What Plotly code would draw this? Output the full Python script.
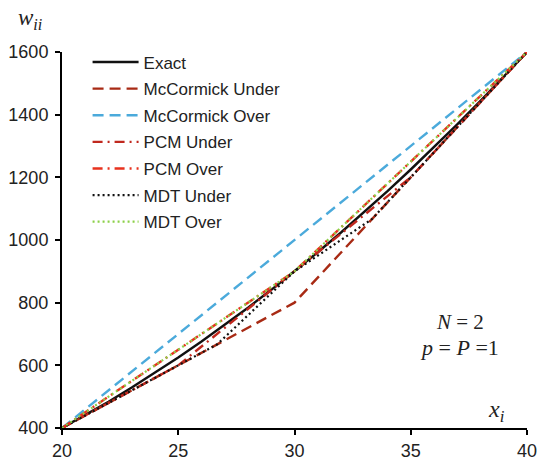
import plotly.graph_objects as go

# ---- data ----
exact_x = [20, 21, 22, 23, 24, 25, 26, 27, 28, 29, 30, 31, 32, 33, 34, 35, 36, 37, 38, 39, 40]
exact_y = [400, 441, 484, 529, 576, 625, 676, 729, 784, 841, 900, 961, 1024, 1089, 1156, 1225, 1296, 1369, 1444, 1521, 1600]

mcc_under_x = [20, 30, 40]
mcc_under_y = [400, 800, 1600]

mcc_over_x = [20, 40]
mcc_over_y = [400, 1600]

pcm_under_x = [20, 25, 30, 35, 40]
pcm_under_y = [400, 600, 900, 1200, 1600]

pcm_over_x = [20, 30, 40]
pcm_over_y = [400, 900, 1600]

mdt_under_x = [20, 26.67, 30, 33.33, 40]
mdt_under_y = [400, 666.7, 900, 1066.7, 1600]

mdt_over_x = [20, 30, 40]
mdt_over_y = [400, 900, 1600]

x_ticks = [20, 25, 30, 35, 40]
y_ticks = [400, 600, 800, 1000, 1200, 1400, 1600]

series = [
    ("Exact", exact_x, exact_y, "#111111", "solid", 2.4),
    ("McCormick Under", mcc_under_x, mcc_under_y, "#A82A14", "11px,6px", 2.4),
    ("McCormick Over", mcc_over_x, mcc_over_y, "#4BAADB", "11px,6px", 2.4),
    ("PCM Under", pcm_under_x, pcm_under_y, "#C0281E", "10px,5px,2px,5px", 2.4),
    ("PCM Over", pcm_over_x, pcm_over_y, "#E8321E", "10px,5px,2px,5px", 2.4),
    ("MDT Under", mdt_under_x, mdt_under_y, "#111111", "2px,3px", 2.2),
    ("MDT Over", mdt_over_x, mdt_over_y, "#8CD048", "2px,3px", 2.2),
]

fig = go.Figure()
for i, (name, xs, ys, color, dash, w) in enumerate(series):
    fig.add_trace(go.Scatter(
        x=xs, y=ys, mode="lines", name=name, legendgroup=f"g{i}",
        line=dict(color=color, dash=dash, width=w),
    ))

axis_font = dict(family="Liberation Sans, Arial, sans-serif", size=18, color="#222222")
serif = "Liberation Serif, DejaVu Serif, serif"

fig.update_layout(
    width=542, height=462,
    margin=dict(l=62, r=15, t=52, b=34, autoexpand=False),
    paper_bgcolor="white", plot_bgcolor="white",
    showlegend=True,
    hovermode=False,
    legend=dict(
        x=0.055, y=1.02, xanchor="left", yanchor="top",
        font=dict(family="Liberation Sans, Arial, sans-serif", size=17, color="#222222"),
        bgcolor="rgba(0,0,0,0)", tracegroupgap=1.5, itemwidth=46,
    ),
    xaxis=dict(
        range=[20, 40], tickvals=x_ticks, ticktext=[str(v) for v in x_ticks],
        showgrid=False, zeroline=False, automargin=False,
        showline=True, linecolor="black", linewidth=2,
        ticks="outside", ticklen=5, tickwidth=1.5, tickcolor="black",
        tickfont=axis_font,
    ),
    yaxis=dict(
        range=[400, 1600], tickvals=y_ticks, ticktext=[str(v) for v in y_ticks],
        showgrid=False, zeroline=False, automargin=False,
        showline=True, linecolor="black", linewidth=2,
        ticks="outside", ticklen=5, tickwidth=1.5, tickcolor="black",
        tickfont=axis_font, ticklabelstandoff=3,
    ),
    annotations=[
        dict(text="<i>w</i><sub><i>ii</i></sub>", xref="paper", yref="paper",
             x=-0.1, y=1.13, xanchor="left", yanchor="top", showarrow=False,
             font=dict(family=serif, size=23, color="#222222")),
        dict(text="<i>x</i><sub><i>i</i></sub>", xref="paper", yref="paper",
             x=0.958, y=0.0, xanchor="right", yanchor="bottom", showarrow=False,
             font=dict(family=serif, size=24, color="#222222")),
        dict(text="<i>N</i> = 2", xref="paper", yref="paper",
             x=0.855, y=0.283, xanchor="center", yanchor="middle", showarrow=False,
             font=dict(family=serif, size=21, color="#222222")),
        dict(text="<i>p</i> = <i>P</i> =1", xref="paper", yref="paper",
             x=0.855, y=0.215, xanchor="center", yanchor="middle", showarrow=False,
             font=dict(family=serif, size=22, color="#222222")),
    ],
)

fig.write_html("out.html")
